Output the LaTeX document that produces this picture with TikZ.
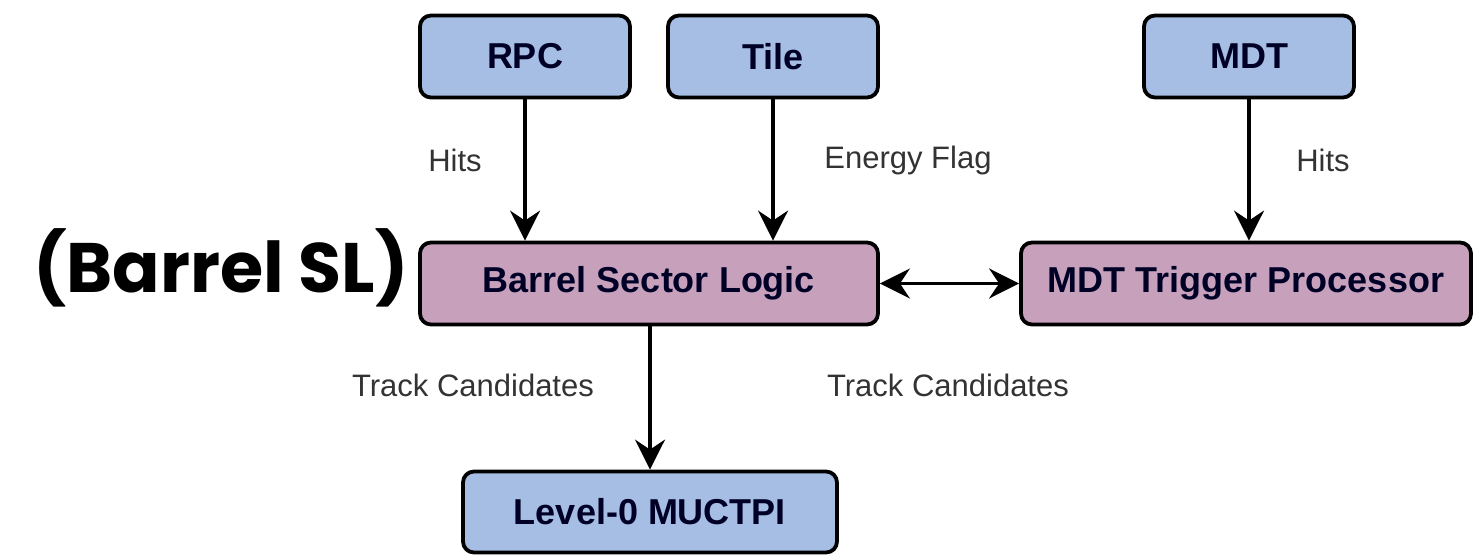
\documentclass[tikz,border=0pt]{standalone}
\usepackage{fontspec}
\setmainfont{Liberation Sans}
\newfontfamily\titlefont{Poppins}
\usetikzlibrary{arrows.meta}
\definecolor{boxblue}{RGB}{166,190,228}
\definecolor{boxpink}{RGB}{199,161,188}
\tikzset{
  box/.style={draw=black, line width=3.8pt, rounded corners=11pt, minimum height=82pt, inner sep=0pt,
    font=\fontsize{36}{40}\selectfont\bfseries, text=black!85!blue},
  bluebox/.style={box, fill=boxblue},
  pinkbox/.style={box, fill=boxpink},
  lbl/.style={font=\fontsize{31}{36}\selectfont, text=black!80, inner sep=0pt},
  tip/.style={},
  conn/.style={line width=3.4pt, -{Stealth[length=30pt,width=30pt,inset=10pt]}},
  conn2/.style={line width=3.4pt, {Stealth[length=30pt,width=30pt,inset=10pt]}-{Stealth[length=30pt,width=30pt,inset=10pt]}}
}
\begin{document}
\begin{tikzpicture}[x=1pt,y=-1pt]
\useasboundingbox (0,0) rectangle (1476,559);
\fill[white] (0,0) rectangle (1476,559);
\node[bluebox, minimum width=210pt] (rpc) at (525,56.5) {RPC};
\node[bluebox, minimum width=210pt] (tile) at (773,56.5) {Tile};
\node[bluebox, minimum width=210pt] (mdt) at (1249,56.5) {MDT};
\node[pinkbox, minimum width=458pt] (bsl) at (649,283.5) {Barrel Sector Logic};
\node[pinkbox, minimum width=450pt] (mtp) at (1246,283.5) {MDT Trigger Processor};
\node[bluebox, minimum width=374pt, minimum height=81pt] (muc) at (650,512) {Level-0 MUCTPI};
\node[font=\titlefont\fontsize{70}{80}\selectfont\bfseries, inner sep=0pt] (title) at (221,268) {(Barrel SL)};
\node[lbl] (l1) at (455,160) {Hits};
\node[lbl] (l2) at (908,160) {Energy Flag};
\node[lbl] (l3) at (1323,160) {Hits};
\node[lbl] (l4) at (473,385) {Track Candidates};
\node[lbl] (l5) at (948,385) {Track Candidates};
\draw[conn] (rpc) -- (rpc |- bsl.north);
\draw[conn] (tile) -- (tile |- bsl.north);
\draw[conn] (mdt) -- (mdt |- mtp.north);
\draw[conn] (muc.north |- bsl.south) -- (muc.north);
\draw[conn2] (bsl.east) -- (mtp.west);
\end{tikzpicture}
\end{document}
